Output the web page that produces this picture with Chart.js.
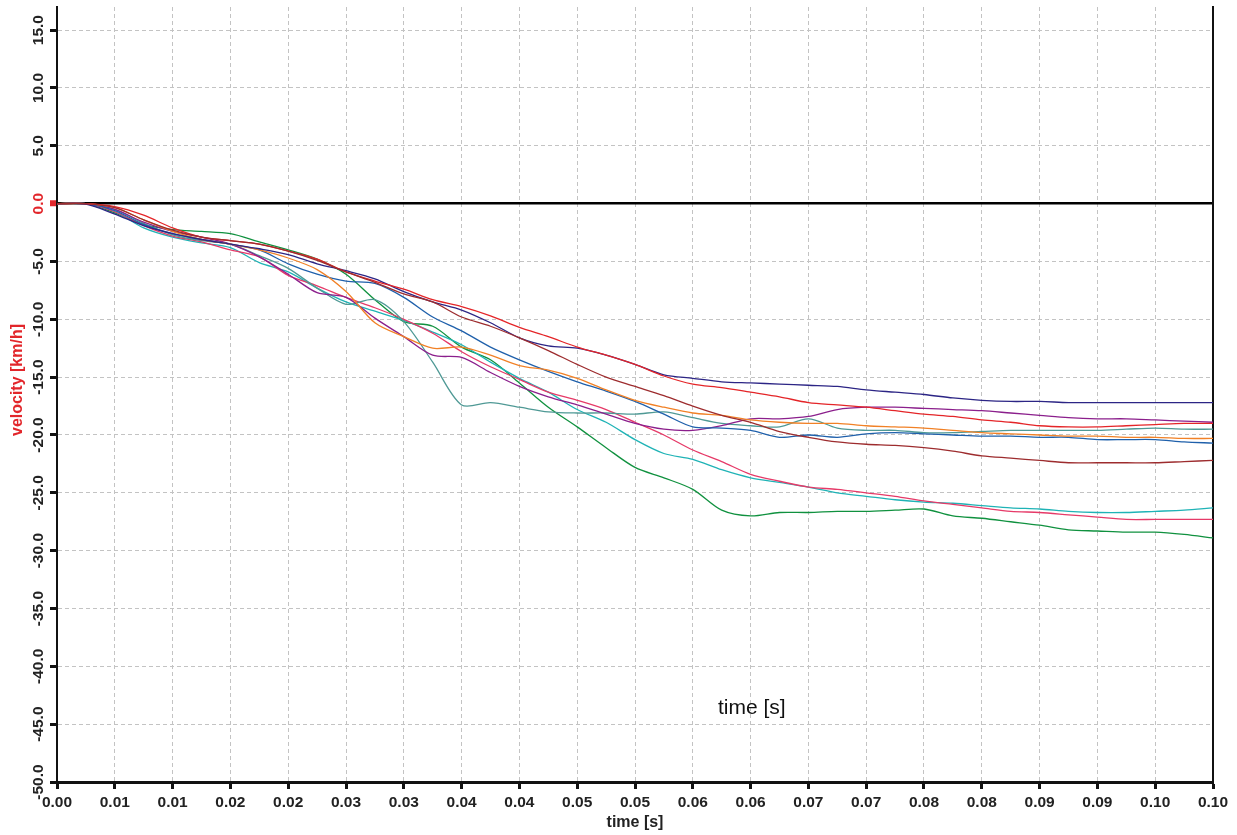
<!DOCTYPE html>
<html><head><meta charset="utf-8">
<script src="https://cdn.jsdelivr.net/npm/chart.js@4.4.1/dist/chart.umd.min.js"></script>
<style>html,body{margin:0;padding:0;background:#fff}canvas{display:block}</style>
</head><body>
<canvas id="c" width="1237" height="835"></canvas>
<script>
// ---- data (time in s, velocity in km/h) ----
const timeS = [0,0.0025,0.005,0.0075,0.01,0.0125,0.015,0.0175,0.02,0.0225,0.025,0.0275,0.03,0.0325,0.035,0.0375,0.04,0.0425,0.045,0.0475,0.05,0.0525,0.055,0.0575,0.06,0.0625,0.065,0.0675,0.07,0.0725,0.075,0.0775,0.08,0.0825,0.085,0.0875,0.09,0.0925,0.095,0.0975,0.1];

const velRed    = [0,0,-0.25,-1.0,-2.1,-2.9,-3.2,-3.5,-4.1,-4.8,-5.9,-6.7,-7.4,-8.3,-8.9,-9.7,-10.7,-11.5,-12.4,-13.1,-13.9,-14.9,-15.6,-15.9,-16.3,-16.7,-17.2,-17.4,-17.6,-17.9,-18.2,-18.4,-18.7,-18.9,-19.2,-19.3,-19.3,-19.2,-19.1,-19.0,-19.0];
const velNavy   = [0,-0.05,-0.9,-1.9,-2.6,-3.1,-3.5,-3.9,-4.4,-5.2,-5.8,-6.5,-7.6,-8.5,-9.2,-10.3,-11.6,-12.3,-12.5,-13.1,-13.9,-14.8,-15.1,-15.4,-15.5,-15.6,-15.7,-15.8,-16.1,-16.3,-16.5,-16.8,-17.0,-17.1,-17.1,-17.2,-17.2,-17.2,-17.2,-17.2,-17.2];
const velPurple = [0,0,-0.5,-1.6,-2.4,-2.9,-3.5,-4.6,-6.1,-7.7,-8.1,-9.9,-11.5,-13.1,-13.3,-14.6,-15.8,-16.7,-17.4,-18.2,-19.0,-19.5,-19.6,-19.2,-18.6,-18.6,-18.4,-17.8,-17.6,-17.6,-17.7,-17.8,-17.9,-18.1,-18.3,-18.5,-18.6,-18.6,-18.7,-18.8,-18.9];
const velOrange = [0,0,-0.35,-1.4,-2.4,-3.1,-3.5,-4.0,-4.7,-5.7,-7.6,-10.3,-11.5,-12.5,-12.4,-13.1,-14.0,-14.4,-15.1,-16.1,-17.0,-17.6,-18.1,-18.3,-18.7,-18.9,-19.0,-19.0,-19.2,-19.3,-19.4,-19.6,-19.8,-19.9,-20.0,-20.1,-20.1,-20.2,-20.2,-20.3,-20.3];
const velTeal   = [0,0,-0.5,-1.7,-2.7,-3.2,-3.5,-4.5,-5.6,-7.3,-8.7,-8.3,-10.2,-13.7,-17.4,-17.2,-17.6,-18.0,-18.1,-18.1,-18.2,-18.0,-18.5,-19.0,-19.2,-19.3,-18.6,-19.4,-19.6,-19.6,-19.8,-19.8,-19.7,-19.6,-19.6,-19.6,-19.6,-19.5,-19.4,-19.5,-19.5];
const velBlue   = [0,0,-0.6,-1.8,-2.6,-3.1,-3.5,-4.0,-5.2,-6.1,-6.7,-6.9,-8.1,-9.8,-11.0,-12.4,-13.5,-14.5,-15.4,-16.2,-17.1,-18.2,-19.3,-19.4,-19.6,-20.2,-20.0,-20.2,-19.9,-19.8,-19.9,-20.0,-20.1,-20.1,-20.2,-20.2,-20.4,-20.4,-20.4,-20.6,-20.7];
const velBrown  = [0,0,-0.35,-1.4,-2.3,-2.9,-3.2,-3.5,-4.1,-4.9,-5.9,-6.8,-7.8,-8.5,-9.8,-10.6,-11.6,-12.7,-13.9,-15.0,-15.8,-16.6,-17.5,-18.3,-18.9,-19.7,-20.2,-20.6,-20.8,-20.9,-21.1,-21.4,-21.8,-22.0,-22.2,-22.4,-22.4,-22.4,-22.4,-22.3,-22.2];
const velPink   = [0,0,-0.7,-1.9,-2.8,-3.3,-4.0,-4.6,-6.2,-7.1,-8.1,-9.0,-10.0,-11.2,-12.8,-14.1,-15.2,-16.3,-17.0,-17.8,-18.9,-20.0,-21.3,-22.3,-23.4,-24.0,-24.5,-24.7,-25.0,-25.3,-25.7,-26.0,-26.3,-26.6,-26.7,-26.9,-27.1,-27.3,-27.3,-27.3,-27.3];
const velCyan   = [0,0,-0.7,-2.1,-2.9,-3.4,-3.8,-5.1,-5.9,-7.3,-8.5,-9.3,-10.1,-11.1,-12.2,-13.7,-15.1,-16.3,-17.8,-18.9,-20.4,-21.6,-22.1,-23.0,-23.7,-24.1,-24.5,-25.0,-25.3,-25.6,-25.8,-25.9,-26.1,-26.3,-26.4,-26.6,-26.7,-26.7,-26.6,-26.5,-26.3];
const velGreen  = [0,0,-0.8,-1.8,-2.25,-2.4,-2.6,-3.3,-4.0,-4.8,-6.1,-8.3,-10.2,-10.6,-12.4,-13.5,-15.5,-17.6,-19.3,-21.1,-22.8,-23.7,-24.7,-26.5,-27.0,-26.7,-26.7,-26.6,-26.6,-26.5,-26.4,-27.0,-27.2,-27.5,-27.8,-28.2,-28.3,-28.4,-28.4,-28.6,-28.9];

const xTickLabels = ['0.00','0.01','0.01','0.02','0.02','0.03','0.03','0.04','0.04','0.05','0.05','0.06','0.06','0.07','0.07','0.08','0.08','0.09','0.09','0.10','0.10'];
const xTitle = 'time [s]';
const yTitle = 'velocity [km/h]';
const noteText = 'time [s]';

// ---- styles ----
const FONT = '"Liberation Sans", Arial, Helvetica, sans-serif';
const seriesDefs = [
  {vals: velBrown,  color: '#9d2c2e'},
  {vals: velRed,    color: '#e42528'},
  {vals: velNavy,   color: '#2c2585'},
  {vals: velOrange, color: '#f18126'},
  {vals: velBlue,   color: '#1f60ab'},
  {vals: velPurple, color: '#8b1f8c'},
  {vals: velTeal,   color: '#4f9995'},
  {vals: velPink,   color: '#e63a68'},
  {vals: velCyan,   color: '#1fb3b6'},
  {vals: velGreen,  color: '#10913f'}
];
const datasets = seriesDefs.map(s => ({
  data: timeS.map((t, i) => ({x: t, y: s.vals[i]})),
  borderColor: s.color,
  backgroundColor: s.color,
  borderWidth: 1.3,
  pointRadius: 0,
  tension: 0.3,
  fill: false
}));

const isZero = c => c && c.tick && Math.abs(c.tick.value) < 1e-9;

const titlePlugin = {
  id: 'titles',
  afterDraw(chart) {
    const c = chart.ctx, a = chart.chartArea;
    c.save();
    c.textAlign = 'center';
    c.textBaseline = 'middle';
    c.font = 'bold 16px ' + FONT;
    c.fillStyle = '#222';
    c.fillText(xTitle, (a.left + a.right) / 2, 823);
    c.save();
    c.translate(18, 380);
    c.rotate(-Math.PI / 2);
    c.fillStyle = '#e2262b';
    c.fillText(yTitle, 0, 0);
    c.restore();
    c.font = '21px ' + FONT;
    c.fillStyle = '#111';
    c.fillText(noteText, chart.scales.x.getPixelForValue(0.0601), chart.scales.y.getPixelForValue(-43.6));
    c.restore();
  }
};

new Chart(document.getElementById('c'), {
  type: 'line',
  data: {datasets},
  plugins: [titlePlugin],
  options: {
    responsive: false,
    animation: false,
    events: [],
    layout: {padding: {top: 7, left: 0, right: 0, bottom: 0}},
    plugins: {legend: {display: false}, tooltip: {enabled: false}, title: {display: false}},
    scales: {
      x: {
        type: 'linear', min: 0, max: 0.1, position: 'bottom',
        afterFit: s => { s.height = 53; },
        ticks: {
          stepSize: 0.005, autoSkip: false, maxRotation: 0, minRotation: 0, padding: 4,
          color: '#222', font: {family: FONT, size: 15.5, weight: 'bold'},
          callback: (v, i) => xTickLabels[i]
        },
        grid: {color: '#c3c3c3', lineWidth: 1, tickColor: '#111', tickWidth: 3, tickLength: 7},
        border: {display: true, color: '#111', width: 3, dash: [4, 3]}
      },
      y: {
        min: -50, max: 17, position: 'left',
        afterFit: s => { s.width = 57; },
        ticks: {
          stepSize: 5, includeBounds: false, minRotation: 90, maxRotation: 90, crossAlign: 'center', padding: -6,
          color: c => isZero(c) ? '#e2262b' : '#222',
          font: {family: FONT, size: 15.5, weight: 'bold'},
          callback: v => Number(v).toFixed(1)
        },
        grid: {
          color: c => isZero(c) ? '#000' : '#c3c3c3',
          lineWidth: c => isZero(c) ? 2.5 : 1,
          tickColor: c => isZero(c) ? '#e2262b' : '#111',
          tickWidth: c => isZero(c) ? 6 : 3,
          tickLength: 7
        },
        border: {display: true, color: '#111', width: 2, dash: c => isZero(c) ? [] : [4, 3]}
      },
      y2: {
        min: -50, max: 17, position: 'right',
        afterFit: s => { s.width = 24; },
        ticks: {display: false},
        grid: {drawOnChartArea: false, drawTicks: false},
        border: {display: true, color: '#111', width: 2}
      }
    }
  }
});
</script>
</body></html>
